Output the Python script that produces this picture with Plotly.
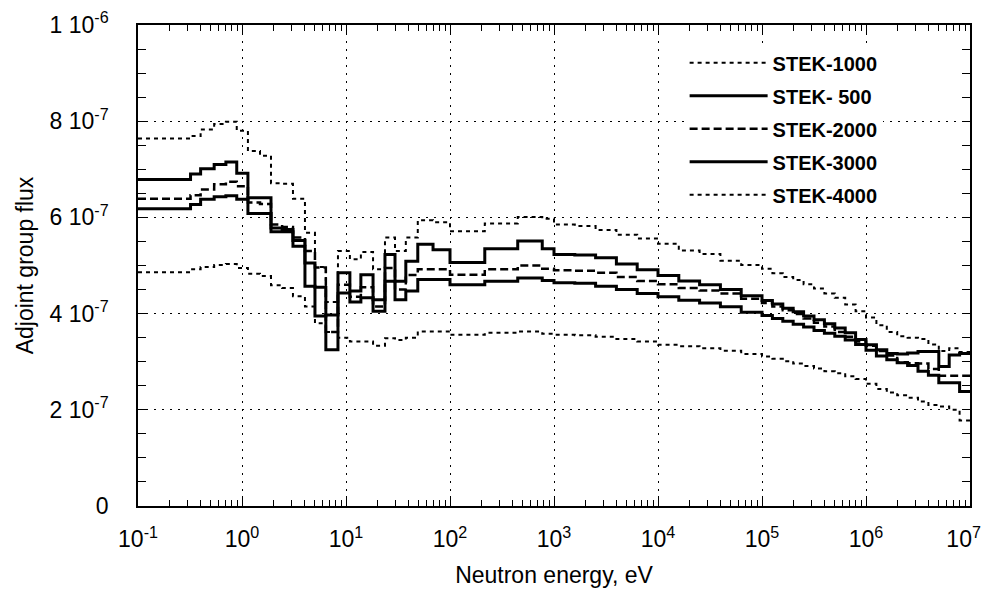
import plotly.graph_objects as go

# Energy group boundaries (eV)
group_edges = [0.1, 0.32, 0.40, 0.54, 0.70, 0.89, 1.14, 1.49, 1.90, 2.43,
               3.09, 4.03, 5.03, 6.40, 8.37, 10.9, 13.9, 18.2, 23.7, 29.6,
               37.6, 49.0, 68.7, 100, 216, 448, 771, 1000,
               1585, 2512, 3981, 6310, 1.0e4, 1.585e4, 2.512e4, 3.981e4, 6.310e4, 1.0e5,
               1.259e5, 1.585e5, 1.995e5, 2.512e5, 3.162e5, 3.981e5, 5.012e5, 6.310e5, 7.943e5, 1.0e6,
               1.259e6, 1.585e6, 1.995e6, 2.512e6, 3.162e6, 3.981e6, 5.012e6, 6.310e6, 7.943e6, 1.0e7]

UNIT = 1e-7  # values below are in units of 1e-7

stek_1000 = [7.64, 7.69, 7.83, 7.94, 7.99, 7.80, 7.38, 7.28, 6.71, 6.70,
             6.39, 5.68, 4.97, 4.24, 5.30, 5.13, 5.28, 4.92, 5.58, 5.30,
             5.58, 5.94, 5.90, 5.71, 5.875, 6.01, 5.97,
             5.85, 5.82, 5.74, 5.64, 5.56, 5.45, 5.31, 5.24, 5.10, 5.01,
             4.93, 4.84, 4.76, 4.70, 4.61, 4.52, 4.42, 4.33, 4.19, 4.05,
             3.92, 3.76, 3.62, 3.53, 3.50, 3.47, 3.36, 3.22, 3.28, 3.20]

stek_500 = [6.79, 6.90, 7.01, 7.10, 7.15, 6.92, 6.08, 6.08, 5.70, 5.70,
            5.40, 5.05, 4.55, 3.25, 4.85, 4.47, 4.81, 4.29, 5.23, 4.67,
            5.09, 5.44, 5.33, 5.06, 5.35, 5.51, 5.35,
            5.23, 5.22, 5.16, 5.03, 4.91, 4.79, 4.68, 4.60, 4.50, 4.37,
            4.27, 4.20, 4.11, 4.04, 3.95, 3.87, 3.79, 3.70, 3.60, 3.46,
            3.35, 3.25, 3.17, 3.16, 3.18, 3.21, 3.21, 2.90, 3.14, 3.17]

stek_2000 = [6.39, 6.46, 6.58, 6.69, 6.74, 6.65, 6.31, 6.28, 5.85, 5.80,
             5.58, 5.30, 4.96, 3.62, 4.60, 4.35, 4.55, 4.15, 4.95, 4.50,
             4.80, 4.92, 4.92, 4.81, 4.92, 5.00, 4.93,
             4.90, 4.89, 4.85, 4.76, 4.68, 4.61, 4.53, 4.48, 4.42, 4.31,
             4.22, 4.15, 4.07, 3.99, 3.90, 3.81, 3.73, 3.62, 3.52, 3.42,
             3.33, 3.22, 3.13, 2.99, 2.97, 2.96, 2.85, 2.71, 2.71, 2.71]

stek_3000 = [6.18, 6.27, 6.375, 6.43, 6.45, 6.375, 6.41, 6.41, 5.78, 5.75,
             5.52, 4.57, 3.95, 3.97, 4.43, 4.24, 4.33, 4.05, 4.67, 4.29,
             4.47, 4.71, 4.71, 4.60, 4.67, 4.74, 4.69,
             4.64, 4.63, 4.57, 4.50, 4.42, 4.35, 4.28, 4.22, 4.14, 4.03,
             3.96, 3.90, 3.84, 3.78, 3.72, 3.65, 3.59, 3.53, 3.45, 3.36,
             3.24, 3.12, 3.04, 2.98, 2.92, 2.80, 2.72, 2.56, 2.56, 2.38]

stek_4000 = [4.86, 4.92, 4.97, 5.01, 5.03, 4.95, 4.83, 4.78, 4.59, 4.53,
             4.36, 4.15, 3.80, 3.62, 3.50, 3.42, 3.42, 3.33, 3.49, 3.45,
             3.50, 3.63, 3.63, 3.56, 3.60, 3.63, 3.58,
             3.56, 3.55, 3.52, 3.47, 3.42, 3.35, 3.32, 3.28, 3.23, 3.16,
             3.11, 3.06, 3.01, 2.96, 2.91, 2.86, 2.80, 2.76, 2.70, 2.64,
             2.54, 2.43, 2.36, 2.30, 2.25, 2.17, 2.10, 2.07, 2.00, 1.78]

series_names = ["STEK-1000", "STEK- 500", "STEK-2000", "STEK-3000", "STEK-4000"]
series_values = [stek_1000, stek_500, stek_2000, stek_3000, stek_4000]
series_dash = ["4px,4px", "solid", "8px,4px", "solid", "4px,4px"]
series_width = [2, 3, 2.5, 3, 2]

x_tickvals = [0.1, 1, 10, 100, 1e3, 1e4, 1e5, 1e6, 1e7]
x_ticktext = ["10<sup>-1</sup>", "10<sup>0</sup>", "10<sup>1</sup>", "10<sup>2</sup>",
              "10<sup>3</sup>", "10<sup>4</sup>", "10<sup>5</sup>", "10<sup>6</sup>",
              "10<sup>7</sup>&nbsp;&nbsp;"]
y_tickvals = [0, 2e-7, 4e-7, 6e-7, 8e-7, 1e-6]
y_ticktext = ["0", "2 10<sup>-7</sup>", "4 10<sup>-7</sup>", "6 10<sup>-7</sup>",
              "8 10<sup>-7</sup>", "1 10<sup>-6</sup>"]

FONT = "Arial, Liberation Sans, Helvetica, sans-serif"

fig = go.Figure()
for i, (name, vals, dash, w) in enumerate(zip(series_names, series_values, series_dash, series_width)):
    yv = [v * UNIT for v in vals] + [vals[-1] * UNIT]
    fig.add_trace(go.Scatter(
        x=group_edges, y=yv, mode="lines", name=name,
        line=dict(color="black", width=w, dash=dash, shape="hv"),
        legendgroup=f"g{i}",
    ))

# the page body adds an 8px margin, so the figure is sized to fill the rest of the window
fig.update_layout(
    width=982, height=583,
    margin=dict(l=130, r=20, t=17, b=85, autoexpand=False),
    paper_bgcolor="white", plot_bgcolor="white",
    font=dict(family=FONT, color="black", size=22),
    showlegend=True,
    legend=dict(
        x=0.657, y=0.962, xanchor="left", yanchor="top",
        bgcolor="white", borderwidth=0,
        font=dict(size=20, family=FONT, weight="bold"),
        itemwidth=78, tracegroupgap=4,
        traceorder="grouped",
    ),
)

fig.update_xaxes(
    type="log", range=[-1, 7], automargin=False,
    tickvals=x_tickvals, ticktext=x_ticktext,
    ticks="inside", ticklen=10, tickwidth=1, tickcolor="black",
    showline=True, linecolor="black", linewidth=1.5, mirror="ticks",
    showgrid=True, gridcolor="black", gridwidth=1, griddash="2px,6px",
    minor=dict(ticks="inside", ticklen=6, tickcolor="black", dtick="D1", showgrid=False),
    ticklabelstandoff=12, ticklabeloverflow="allow",
    title=dict(text="Neutron energy, eV", font=dict(size=23), standoff=16),
    tickfont=dict(size=23),
)

fig.update_yaxes(
    range=[0, 1e-6], automargin=False,
    tickvals=y_tickvals, ticktext=y_ticktext,
    ticks="inside", ticklen=8, tickwidth=1, tickcolor="black",
    showline=True, linecolor="black", linewidth=1.5, mirror="ticks",
    showgrid=True, gridcolor="black", gridwidth=1, griddash="2px,6px",
    zeroline=False,
    minor=dict(ticks="inside", ticklen=8, tickcolor="black", dtick=0.5e-7, showgrid=False),
    ticklabelstandoff=23, ticklabeloverflow="allow",
    title=dict(text="Adjoint group flux", font=dict(size=23), standoff=10),
    tickfont=dict(size=23),
)

fig.write_html("out.html")
